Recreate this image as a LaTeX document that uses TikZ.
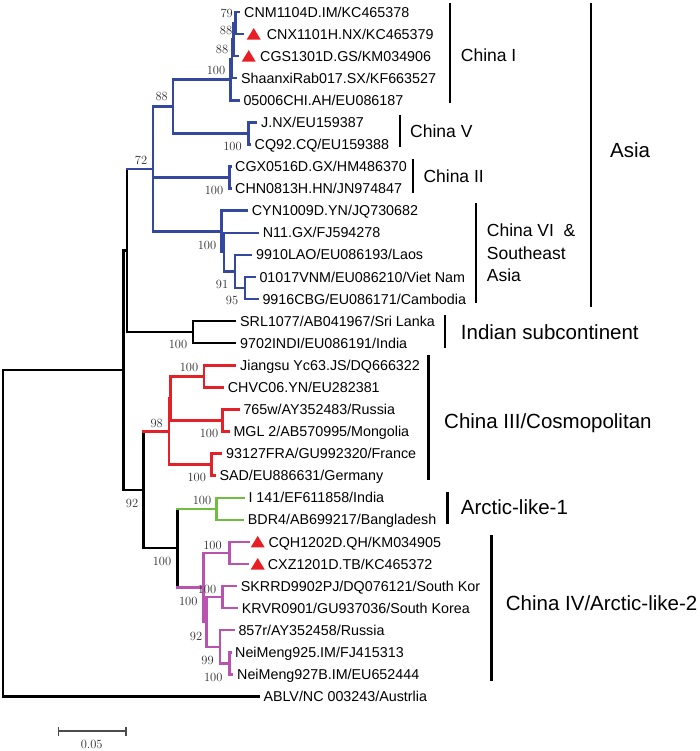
\documentclass[tikz,border=0pt]{standalone}
\usepackage{fontspec}
\newfontfamily\arial{Liberation Sans}
\usetikzlibrary{calc}
\definecolor{cblue}{RGB}{52,72,160}
\definecolor{cred}{RGB}{228,32,40}
\definecolor{cgreen}{RGB}{112,190,64}
\definecolor{cpurp}{RGB}{184,84,176}
\definecolor{trired}{RGB}{232,30,36}
\begin{document}
\begin{tikzpicture}[x=1pt,y=-1pt,
  br/.style={line width=2.5pt, line cap=rect, line join=miter},
  bk/.style={br, black},
  bl/.style={br, cblue},
  rd/.style={br, cred},
  gn/.style={br, cgreen},
  pu/.style={br, cpurp},
  leaflab/.style={anchor=base west, inner sep=0pt, font=\arial\fontsize{14.3}{16}\selectfont, text=black, yshift=-5.1pt},
  bs/.style={inner sep=0pt, font=\fontsize{12.5}{14}\selectfont, text=black!82},
  clab/.style={anchor=base west, inner sep=0pt, font=\arial\fontsize{20.5}{24}\selectfont, yshift=-7.3pt},
  slab/.style={anchor=base west, inner sep=0pt, font=\arial\fontsize{17.5}{21}\selectfont, yshift=-6.3pt},
  bar/.style={line width=1.8pt},
  tbar/.style={line width=2.8pt},
  trif/.style={fill=trired},
  sbar/.style={line width=1.6pt, black!70}
]
\useasboundingbox (0,0) rectangle (700,751);

% ---------- leaves (branch ends) ----------
\coordinate (l1) at (239,12);
\coordinate (l2) at (243,34.08);
\coordinate (l3) at (238,56.16);
\coordinate (l4) at (236,78.24);
\coordinate (l5) at (238.3,100.32);
\coordinate (l6) at (256,122.4);
\coordinate (l7) at (249.5,144.48);
\coordinate (l8) at (231,166.56);
\coordinate (l9) at (231,188.64);
\coordinate (l10) at (246.7,210.72);
\coordinate (l11) at (257.7,232.8);
\coordinate (l12) at (251,254.88);
\coordinate (l13) at (254.3,276.96);
\coordinate (l14) at (257.3,299.04);
\coordinate (l15) at (235,321.12);
\coordinate (l16) at (235,343.2);
\coordinate (l17) at (235,365.28);
\coordinate (l18) at (222.7,387.36);
\coordinate (l19) at (238.3,409.44);
\coordinate (l20) at (228.3,431.52);
\coordinate (l21) at (221,453.6);
\coordinate (l22) at (214.3,475.68);
\coordinate (l23) at (243.3,497.76);
\coordinate (l24) at (242.7,519.84);
\coordinate (l25) at (248.3,541.92);
\coordinate (l26) at (247.7,564);
\coordinate (l27) at (235.7,586.08);
\coordinate (l28) at (236.7,608.16);
\coordinate (l29) at (233.3,630.24);
\coordinate (l30) at (231,652.32);
\coordinate (l31) at (232,674.4);
\coordinate (l32) at (258.3,696.48);

% ---------- internal nodes ----------
\coordinate (c4) at (235.5,23.04);
\coordinate (c3) at (233.5,39.6);
\coordinate (c2) at (232,58.92);
\coordinate (c1) at (230.5,79.62);
\coordinate (v) at (248.3,133.44);
\coordinate (iv) at (173,106.53);
\coordinate (ii) at (229.3,177.6);
\coordinate (z) at (245,288);
\coordinate (y) at (235,271.44);
\coordinate (x) at (224,252.12);
\coordinate (vi) at (221.7,231.42);
\coordinate (as) at (153,168.98);
\coordinate (in) at (193,332.16);
\coordinate (ai) at (127,250.57);
\coordinate (j) at (204,376.32);
\coordinate (w) at (222.7,420.48);
\coordinate (r2) at (170.5,398.4);
\coordinate (f) at (211.7,464.64);
\coordinate (r) at (169,431.52);
\coordinate (gr) at (216.7,508.8);
\coordinate (q) at (229.3,552.96);
\coordinate (k) at (222.7,597.12);
\coordinate (n) at (229.3,663.36);
\coordinate (e) at (220,646.8);
\coordinate (d) at (206.7,621.96);
\coordinate (p) at (203.3,587.46);
\coordinate (g) at (177.3,548.13);
\coordinate (m) at (143.5,489.83);
\coordinate (n1) at (123.3,370.2);
\coordinate (root) at (3,533.34);

% ---------- blue (Asia) ----------
\draw[bl] (c4) |- (l1);  \draw[bl] (c4) |- (l2);
\draw[bl] (c3) |- (c4);  \draw[bl] (c3) |- (l3);
\draw[bl] (c2) |- (c3);  \draw[bl] (c2) |- (l4);
\draw[bl] (c1) |- (c2);  \draw[bl] (c1) |- (l5);
\draw[bl] (v) |- (l6);   \draw[bl] (v) |- (l7);
\draw[bl] (iv) |- (c1);  \draw[bl] (iv) |- (v);
\draw[bl] (ii) |- (l8);  \draw[bl] (ii) |- (l9);
\draw[bl] (z) |- (l13);  \draw[bl] (z) |- (l14);
\draw[bl] (y) |- (l12);  \draw[bl] (y) |- (z);
\draw[bl] (x) |- (l11);  \draw[bl] (x) |- (y);
\draw[bl] (vi) |- (l10); \draw[bl] (vi) |- (x);
\draw[bl] (as) |- (iv);  \draw[bl] (as) |- (ii);  \draw[bl] (as) |- (vi);

% ---------- black backbone ----------
\draw[bk] (ai) -- (ai |- as);
\draw[bl] (ai |- as) -- (as);
\draw[bk] (in) |- (l15); \draw[bk] (in) |- (l16);
\draw[bk] (ai) |- (in);
\draw[bk] (n1) |- (ai);  \draw[bk] (n1) |- (m);
\draw[bk] (root) |- (n1); \draw[bk] (root) |- (l32);
\draw[bk] (m) -- (m |- r);
\draw[rd] (m |- r) -- (r);
\draw[bk] (m) |- (g);
\draw[bk] (g) -- (g |- gr);
\draw[gn] (g |- gr) -- (gr);
\draw[bk] (g) -- (g |- p);
\draw[pu] (g |- p) -- (p);

% ---------- red ----------
\draw[rd] (j) |- (l17);  \draw[rd] (j) |- (l18);
\draw[rd] (w) |- (l19);  \draw[rd] (w) |- (l20);
\draw[rd] (f) |- (l21);  \draw[rd] (f) |- (l22);
\draw[rd] (r2) |- (j);   \draw[rd] (r2) |- (w);
\draw[rd] (r) |- (r2);   \draw[rd] (r) |- (f);

% ---------- green ----------
\draw[gn] (gr) |- (l23); \draw[gn] (gr) |- (l24);

% ---------- purple ----------
\draw[pu] (q) |- (l25);  \draw[pu] (q) |- (l26);
\draw[pu] (k) |- (l27);  \draw[pu] (k) |- (l28);
\draw[pu] (n) |- (l30);  \draw[pu] (n) |- (l31);
\draw[pu] (e) |- (l29);  \draw[pu] (e) |- (n);
\draw[pu] (d) |- (k);    \draw[pu] (d) |- (e);
\draw[pu] (p) |- (q);    \draw[pu] (p) |- (d);

% ---------- red triangles ----------
\fill[trif] ([shift={(3.7,5.5)}]l2) -- ([shift={(17.7,5.5)}]l2) -- ([shift={(10.7,-6)}]l2) -- cycle;
\fill[trif] ([shift={(3.7,5.5)}]l3) -- ([shift={(17.7,5.5)}]l3) -- ([shift={(10.7,-6)}]l3) -- cycle;
\fill[trif] ([shift={(2.4,5.5)}]l25) -- ([shift={(16.4,5.5)}]l25) -- ([shift={(9.4,-6)}]l25) -- cycle;
\fill[trif] ([shift={(3,5.5)}]l26) -- ([shift={(17,5.5)}]l26) -- ([shift={(10,-6)}]l26) -- cycle;

% ---------- leaf labels ----------
\node[leaflab, xshift=5pt] (t1) at (l1) {CNM1104D.IM/KC465378};
\node[leaflab, xshift=23.7pt] (t2) at (l2) {CNX1101H.NX/KC465379};
\node[leaflab, xshift=22pt] (t3) at (l3) {CGS1301D.GS/KM034906};
\node[leaflab, xshift=5pt] (t4) at (l4) {ShaanxiRab017.SX/KF663527};
\node[leaflab, xshift=5pt] (t5) at (l5) {05006CHI.AH/EU086187};
\node[leaflab, xshift=5pt] (t6) at (l6) {J.NX/EU159387};
\node[leaflab, xshift=5pt] (t7) at (l7) {CQ92.CQ/EU159388};
\node[leaflab, xshift=4pt] (t8) at (l8) {CGX0516D.GX/HM486370};
\node[leaflab, xshift=4pt] (t9) at (l9) {CHN0813H.HN/JN974847};
\node[leaflab, xshift=5pt] (t10) at (l10) {CYN1009D.YN/JQ730682};
\node[leaflab, xshift=5pt] (t11) at (l11) {N11.GX/FJ594278};
\node[leaflab, xshift=5pt] (t12) at (l12) {9910LAO/EU086193/Laos};
\node[leaflab, xshift=5pt] (t13) at (l13) {01017VNM/EU086210/Viet Nam};
\node[leaflab, xshift=5pt] (t14) at (l14) {9916CBG/EU086171/Cambodia};
\node[leaflab, xshift=5pt] (t15) at (l15) {SRL1077/AB041967/Sri Lanka};
\node[leaflab, xshift=5pt] (t16) at (l16) {9702INDI/EU086191/India};
\node[leaflab, xshift=5pt] (t17) at (l17) {Jiangsu Yc63.JS/DQ666322};
\node[leaflab, xshift=5pt] (t18) at (l18) {CHVC06.YN/EU282381};
\node[leaflab, xshift=5pt] (t19) at (l19) {765w/AY352483/Russia};
\node[leaflab, xshift=5pt] (t20) at (l20) {MGL 2/AB570995/Mongolia};
\node[leaflab, xshift=5pt] (t21) at (l21) {93127FRA/GU992320/France};
\node[leaflab, xshift=5pt] (t22) at (l22) {SAD/EU886631/Germany};
\node[leaflab, xshift=5pt] (t23) at (l23) {I 141/EF611858/India};
\node[leaflab, xshift=5pt] (t24) at (l24) {BDR4/AB699217/Bangladesh};
\node[leaflab, xshift=20pt] (t25) at (l25) {CQH1202D.QH/KM034905};
\node[leaflab, xshift=20pt] (t26) at (l26) {CXZ1201D.TB/KC465372};
\node[leaflab, xshift=5pt] (t27) at (l27) {SKRRD9902PJ/DQ076121/South Kor};
\node[leaflab, xshift=5pt] (t28) at (l28) {KRVR0901/GU937036/South Korea};
\node[leaflab, xshift=5pt] (t29) at (l29) {857r/AY352458/Russia};
\node[leaflab, xshift=4pt] (t30) at (l30) {NeiMeng925.IM/FJ415313};
\node[leaflab, xshift=5pt] (t31) at (l31) {NeiMeng927B.IM/EU652444};
\node[leaflab, xshift=5pt] (t32) at (l32) {ABLV/NC 003243/Austrlia};

% ---------- bootstrap values ----------
\node[bs] (bc4) at (226.7,13) {79};
\node[bs] (bc3) at (226,30) {88};
\node[bs] (bc2) at (222,49.3) {88};
\node[bs] (bc1) at (216,70) {100};
\node[bs] (biv) at (161.7,96.7) {88};
\node[bs] (bv) at (232.5,146) {100};
\node[bs] (bas) at (141,160) {72};
\node[bs] (bii) at (214,190) {100};
\node[bs] (bvi) at (207,245) {100};
\node[bs] (by) at (222,284) {91};
\node[bs] (bz) at (232,300) {95};
\node[bs] (bin) at (178,344.3) {100};
\node[bs] (bj) at (189,367.7) {100};
\node[bs] (br) at (156.7,423.3) {98};
\node[bs] (bw) at (209,433.3) {100};
\node[bs] (bf) at (196.7,477.3) {100};
\node[bs] (bm) at (132,503.3) {92};
\node[bs] (bgr) at (202,500.7) {100};
\node[bs] (bg) at (162,561.7) {100};
\node[bs] (bq) at (212.5,545) {100};
\node[bs] (bk) at (207,589) {100};
\node[bs] (bp) at (188.3,601.7) {100};
\node[bs] (bd) at (196,636.7) {92};
\node[bs] (be) at (207.5,660.7) {99};
\node[bs] (bn) at (213.3,677.3) {100};

% ---------- clade bars ----------
\coordinate (k1a) at (450,3.3);   \coordinate (k1b) at (450,103.3);
\coordinate (k5a) at (400,115);   \coordinate (k5b) at (400,146.7);
\coordinate (k2a) at (412.7,159.3); \coordinate (k2b) at (412.7,192.7);
\coordinate (k6a) at (476,203.3); \coordinate (k6b) at (476,303.3);
\coordinate (kaa) at (591,3.3);   \coordinate (kab) at (591,306.7);
\coordinate (kia) at (445,315);   \coordinate (kib) at (445,347.7);
\coordinate (k3a) at (428.3,355); \coordinate (k3b) at (428.3,480);
\coordinate (kla) at (447.7,491.7); \coordinate (klb) at (447.7,524);
\coordinate (k4a) at (491.7,535); \coordinate (k4b) at (491.7,681);
\draw[bar] (k1a) -- (k1b);
\draw[bar] (k5a) -- (k5b);
\draw[bar] (k2a) -- (k2b);
\draw[bar] (k6a) -- (k6b);
\draw[tbar] (kaa) -- (kab);
\draw[tbar] (kia) -- (kib);
\draw[tbar] (k3a) -- (k3b);
\draw[tbar] (kla) -- (klb);
\draw[tbar] (k4a) -- (k4b);

% ---------- clade labels ----------
\node[slab] (n1l) at (460.7,55) {China I};
\node[slab] (n5l) at (410,131.7) {China V};
\node[slab] (n2l) at (423.3,176.7) {China II};
\node[slab] (n6l1) at (486.7,230) {China VI\ \ \&};
\node[slab] (n6l2) at (486.7,253.3) {Southeast};
\node[slab] (n6l3) at (486.7,275) {Asia};
\node[clab] (nal) at (610,150) {Asia};
\node[clab] (nil) at (460.7,331.7) {Indian subcontinent};
\node[clab] (n3l) at (444,420.7) {China III/Cosmopolitan};
\node[clab] (nll) at (460.7,506.7) {Arctic-like-1};
\node[clab] (n4l) at (505.7,603.3) {China IV/Arctic-like-2};

% ---------- scale bar ----------
\coordinate (s1) at (58.3,731);
\coordinate (s2) at (125.7,731);
\draw[sbar] (s1) -- (s2);
\draw[sbar] ([yshift=4.5pt]s1) -- ([yshift=-4.5pt]s1);
\draw[sbar] ([yshift=4.5pt]s2) -- ([yshift=-4.5pt]s2);
\node[bs] (sl) at (91.7,744.3) {0.05};
\end{tikzpicture}
\end{document}
